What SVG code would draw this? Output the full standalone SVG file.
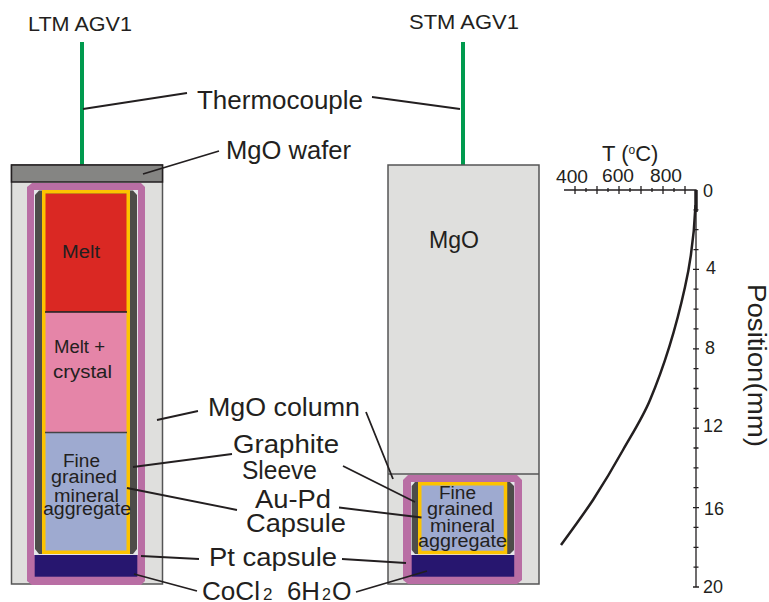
<svg xmlns="http://www.w3.org/2000/svg" width="769" height="602" viewBox="0 0 769 602">
<style>
text{font-family:"Liberation Sans",Arial,sans-serif;fill:#231f20}
.l{font-size:25px}
.i{font-size:18px}
.a{font-size:18px}
.c{fill:#dfdfdd;stroke:#555;stroke-width:1.5}
.ln{stroke:#231f20;stroke-width:1.8;fill:none}
.tk{stroke:#231f20;stroke-width:1.3;fill:none}
.tc{stroke:#009a4e;stroke-width:4;fill:none}
</style>
<rect width="769" height="602" fill="#fff"/>
<g id="ltm-assembly">
<line class="tc" x1="82" y1="42" x2="82" y2="165"/>
<rect class="c" x="11.500" y="165" width="151" height="419"/>
<rect x="11.500" y="165" width="151" height="17" fill="#858583" stroke="#231f20" stroke-width="1.500"/>
<path d="M32 183H141L145 187V581L141 585H32L27 581V187Z" fill="#b96ea4"/>
<rect x="34" y="190" width="104" height="365" fill="#e6e6ea"/>
<path d="M39 190.500H133L137 195V549L133 554H39L35 549V195Z" fill="#4d4c49"/>
<rect x="45" y="193.500" width="82" height="118" fill="#da2823"/>
<rect x="45" y="312" width="82" height="120" fill="#e585a8"/>
<rect x="45" y="433" width="82" height="119" fill="#9eaad0"/>
<rect x="43.750" y="191.750" width="84.500" height="360.500" fill="none" stroke="#fdc300" stroke-width="3.500"/>
<line x1="45" y1="312" x2="127" y2="312" stroke="#231f20" stroke-width="1.500"/>
<line x1="45" y1="432.500" x2="127" y2="432.500" stroke="#444" stroke-width="1.500"/>
<rect x="34.700" y="555" width="102.600" height="21.700" fill="#27166f"/>
</g>
<g id="stm-assembly">
<line class="tc" x1="463" y1="42" x2="463" y2="165"/>
<rect class="c" x="388" y="165" width="151" height="419"/>
<line x1="388" y1="474" x2="539" y2="474" stroke="#555" stroke-width="1.500"/>
<path d="M408 475H517L522 480V580L517 584H408L403 580V480Z" fill="#b96ea4"/>
<rect x="411" y="482" width="103.500" height="73" fill="#e6e6ea"/>
<path d="M415 482H510L514 486V550L510 554H415L411.700 550V486Z" fill="#4d4c49"/>
<rect x="419.750" y="483.750" width="85.750" height="68.750" fill="#9eaad0" stroke="#fdc300" stroke-width="3.500"/>
<rect x="411.700" y="555" width="102.500" height="21.700" fill="#27166f"/>
</g>
<g id="connectors">
<path class="ln" d="M83 109L187 93M372 97L460 109M143 174L219 151M157 420L198 411M133 467L232 454M127 488L237 510M141 556L199 559M134 574L197 591"/>
<path class="ln" d="M366 412L393 479M343 466L415 502M339 507.500L421.500 517.500M342 559L406 563M356 592L427 571"/>
</g>
<g id="temperature-axis">
<path class="tk" d="M564 190H696V587M575 186V194M586 188V192M597 186V194M608 188V192M619 186V194M630 188V192M641 186V194M652 188V192M663 186V194M674 188V192M685 186V194"/>
<path class="tk" d="M693.500 209.900h5M693.500 229.700h5M693.500 249.600h5M693 269.400h6M693.500 289.200h5M693.500 309.100h5M693.500 328.900h5M693 348.800h6M693.500 368.600h5M693.500 388.500h5M693.500 408.300h5M693 428.200h6M693.500 448h5M693.500 467.900h5M693.500 487.700h5M693 507.600h6M693.500 527.400h5M693.500 547.300h5M693.500 567.100h5M693 587h6"/>
<path d="M696 190V212" stroke="#231f20" stroke-width="3.500" fill="none"/>
<path d="M695.500 205C694 240 690 265 685 287C676.700 324.700 666 362 650 400C643 417 632.700 433 623 450C613.500 467 604 483 593 500C583 515 572 530 561 545" stroke="#231f20" stroke-width="2.500" fill="none"/>
<text class="a" x="556" y="183" textLength="32" lengthAdjust="spacingAndGlyphs">400</text>
<text class="a" x="602" y="182" textLength="32" lengthAdjust="spacingAndGlyphs">600</text>
<text class="a" x="650" y="182" textLength="32" lengthAdjust="spacingAndGlyphs">800</text>
<text class="a" x="703" y="197">0</text>
<text class="a" x="706" y="274">4</text>
<text class="a" x="705" y="354">8</text>
<text class="a" x="703" y="432" textLength="20" lengthAdjust="spacingAndGlyphs">12</text>
<text class="a" x="704" y="515" textLength="20" lengthAdjust="spacingAndGlyphs">16</text>
<text class="a" x="703" y="593" textLength="20" lengthAdjust="spacingAndGlyphs">20</text>
<text x="602" y="161" style="font-size:22px">T (<tspan dy="-7" style="font-size:12px">o</tspan><tspan dy="7">C)</tspan></text>
<text transform="translate(748 284) rotate(90)" style="font-size:25px" textLength="163" lengthAdjust="spacingAndGlyphs">Position(mm)</text>
</g>
<g id="labels">
<text x="28" y="31" style="font-size:21px" textLength="104" lengthAdjust="spacingAndGlyphs">LTM AGV1</text>
<text x="409" y="29" style="font-size:21px" textLength="110" lengthAdjust="spacingAndGlyphs">STM AGV1</text>
<text class="l" x="197" y="109" textLength="166" lengthAdjust="spacingAndGlyphs">Thermocouple</text>
<text class="l" x="226" y="159" textLength="125" lengthAdjust="spacingAndGlyphs">MgO wafer</text>
<text x="429" y="248" style="font-size:24px" textLength="50" lengthAdjust="spacingAndGlyphs">MgO</text>
<text class="l" x="208" y="416" textLength="152" lengthAdjust="spacingAndGlyphs">MgO column</text>
<text class="l" x="233" y="453" textLength="106" lengthAdjust="spacingAndGlyphs">Graphite</text>
<text class="l" x="242" y="479" textLength="75" lengthAdjust="spacingAndGlyphs">Sleeve</text>
<text class="l" x="255" y="508" textLength="76" lengthAdjust="spacingAndGlyphs">Au-Pd</text>
<text class="l" x="246" y="532" textLength="100" lengthAdjust="spacingAndGlyphs">Capsule</text>
<text class="l" x="209" y="566" textLength="128" lengthAdjust="spacingAndGlyphs">Pt capsule</text>
<text class="l" x="202" y="600" textLength="58" lengthAdjust="spacingAndGlyphs">CoCl</text>
<text x="263" y="600" style="font-size:17px">2</text>
<text class="l" x="287" y="600" textLength="33" lengthAdjust="spacingAndGlyphs">6H</text>
<text x="322" y="600" style="font-size:16px">2</text>
<text class="l" x="332" y="600">O</text>
<text class="i" x="62" y="258" textLength="38" lengthAdjust="spacingAndGlyphs">Melt</text>
<text class="i" x="54" y="353" textLength="51" lengthAdjust="spacingAndGlyphs">Melt +</text>
<text class="i" x="53" y="378" textLength="59" lengthAdjust="spacingAndGlyphs">crystal</text>
<text class="i" x="63" y="467" textLength="37" lengthAdjust="spacingAndGlyphs">Fine</text>
<text class="i" x="51" y="483" textLength="66" lengthAdjust="spacingAndGlyphs">grained</text>
<text class="i" x="54" y="502" textLength="65" lengthAdjust="spacingAndGlyphs">mineral</text>
<text class="i" x="43" y="515" textLength="88" lengthAdjust="spacingAndGlyphs">aggregate</text>
<text class="i" x="439" y="499" textLength="37" lengthAdjust="spacingAndGlyphs">Fine</text>
<text class="i" x="427" y="515" textLength="66" lengthAdjust="spacingAndGlyphs">grained</text>
<text class="i" x="430" y="532" textLength="65" lengthAdjust="spacingAndGlyphs">mineral</text>
<text class="i" x="418" y="547" textLength="89" lengthAdjust="spacingAndGlyphs">aggregate</text>
</g>
</svg>
